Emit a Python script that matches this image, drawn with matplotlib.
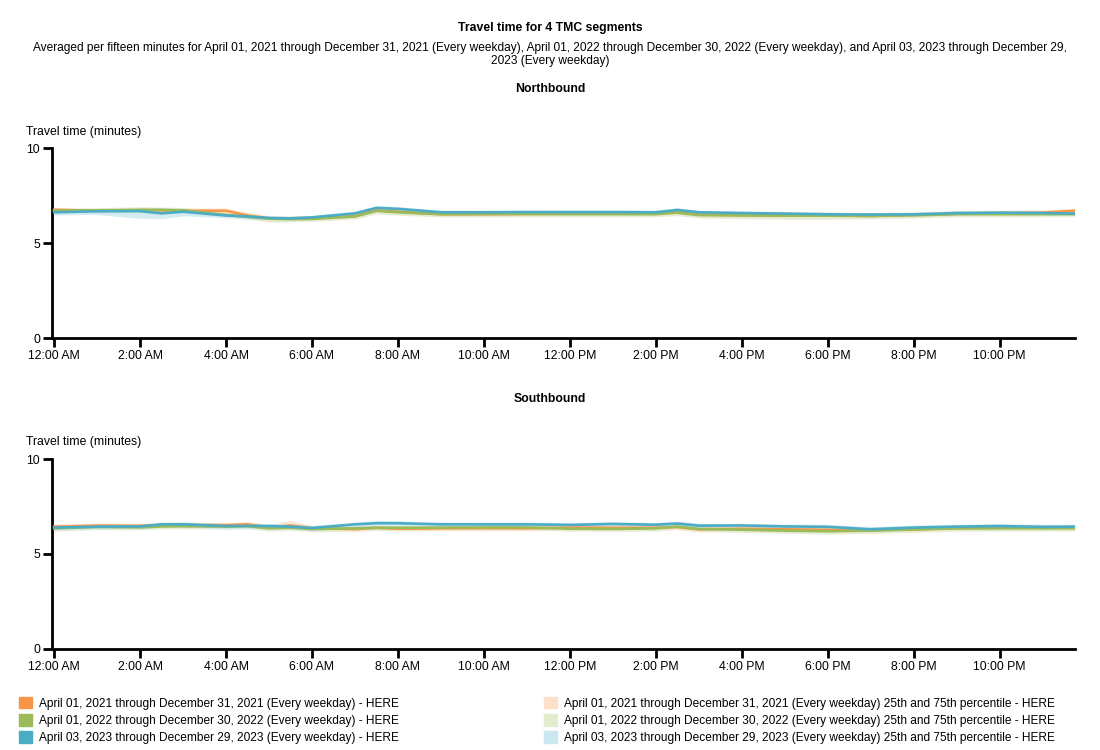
import matplotlib
matplotlib.use("Agg")
import matplotlib.pyplot as plt
from matplotlib.patches import Patch

plt.rcParams['font.family'] = ['Liberation Sans', 'DejaVu Sans']

# hours of the day (0 = 12:00 AM)
hours = [0, 1, 2, 2.5, 3, 4, 4.5, 5, 5.5, 6, 7, 7.5, 8, 9, 10, 11, 12, 13, 14, 14.5,
         15, 16, 17, 18, 19, 20, 21, 22, 23, 23.75]

tick_hours = [0, 2, 4, 6, 8, 10, 12, 14, 16, 18, 20, 22]
tick_labels = ['12:00 AM', '2:00 AM', '4:00 AM', '6:00 AM', '8:00 AM', '10:00 AM',
               '12:00 PM', '2:00 PM', '4:00 PM', '6:00 PM', '8:00 PM', '10:00 PM']

# Northbound averages (minutes)
nb_2021 = [6.75, 6.70, 6.72, 6.72, 6.70, 6.70, 6.45, 6.30, 6.30, 6.32, 6.42, 6.72, 6.65, 6.52, 6.52,
           6.53, 6.55, 6.55, 6.56, 6.62, 6.50, 6.48, 6.47, 6.46, 6.42, 6.48, 6.54, 6.57, 6.60, 6.70]
nb_2022 = [6.70, 6.72, 6.75, 6.75, 6.72, 6.48, 6.38, 6.28, 6.26, 6.27, 6.40, 6.70, 6.62, 6.52, 6.53,
           6.53, 6.52, 6.52, 6.52, 6.60, 6.47, 6.45, 6.44, 6.44, 6.43, 6.46, 6.52, 6.52, 6.52, 6.52]
nb_2023 = [6.62, 6.67, 6.68, 6.56, 6.65, 6.45, 6.40, 6.32, 6.30, 6.35, 6.56, 6.85, 6.80, 6.62, 6.62,
           6.63, 6.63, 6.63, 6.62, 6.74, 6.62, 6.58, 6.55, 6.51, 6.50, 6.51, 6.58, 6.60, 6.58, 6.55]

# Northbound 25th / 75th percentiles
nb_2021_lo = [6.60, 6.56, 6.60, 6.60, 6.58, 6.56, 6.28, 6.10, 6.12, 6.18, 6.28, 6.56, 6.50, 6.38, 6.38,
              6.40, 6.42, 6.42, 6.42, 6.48, 6.36, 6.32, 6.28, 6.28, 6.28, 6.34, 6.40, 6.42, 6.44, 6.54]
nb_2021_hi = [6.87, 6.82, 6.86, 6.86, 6.84, 6.84, 6.62, 6.44, 6.42, 6.44, 6.54, 6.86, 6.78, 6.64, 6.64,
              6.65, 6.66, 6.66, 6.68, 6.76, 6.64, 6.62, 6.62, 6.64, 6.60, 6.64, 6.70, 6.72, 6.74, 6.82]
nb_2022_lo = [6.56, 6.58, 6.58, 6.60, 6.58, 6.34, 6.24, 6.14, 6.13, 6.14, 6.26, 6.53, 6.46, 6.38, 6.38,
              6.38, 6.38, 6.38, 6.38, 6.44, 6.32, 6.28, 6.26, 6.26, 6.28, 6.32, 6.38, 6.38, 6.38, 6.38]
nb_2022_hi = [6.84, 6.86, 6.92, 6.90, 6.87, 6.62, 6.50, 6.40, 6.38, 6.40, 6.54, 6.84, 6.76, 6.65, 6.66,
              6.66, 6.65, 6.65, 6.65, 6.74, 6.60, 6.58, 6.58, 6.58, 6.58, 6.60, 6.66, 6.66, 6.66, 6.66]
nb_2023_lo = [6.48, 6.50, 6.30, 6.28, 6.43, 6.33, 6.28, 6.22, 6.20, 6.24, 6.44, 6.70, 6.66, 6.52, 6.52,
              6.52, 6.52, 6.52, 6.52, 6.62, 6.52, 6.48, 6.44, 6.40, 6.40, 6.42, 6.48, 6.50, 6.48, 6.46]
nb_2023_hi = [6.74, 6.78, 6.78, 6.68, 6.76, 6.56, 6.50, 6.42, 6.40, 6.46, 6.68, 6.97, 6.92, 6.72, 6.72,
              6.73, 6.73, 6.73, 6.72, 6.86, 6.72, 6.68, 6.65, 6.62, 6.60, 6.62, 6.68, 6.70, 6.68, 6.65]

# Southbound averages (minutes)
sb_2021 = [6.44, 6.49, 6.48, 6.52, 6.53, 6.52, 6.56, 6.40, 6.50, 6.36, 6.31, 6.38, 6.33, 6.35, 6.36,
           6.35, 6.39, 6.38, 6.38, 6.42, 6.30, 6.33, 6.30, 6.27, 6.26, 6.30, 6.36, 6.38, 6.40, 6.40]
sb_2022 = [6.35, 6.42, 6.40, 6.45, 6.46, 6.44, 6.46, 6.35, 6.38, 6.31, 6.35, 6.38, 6.38, 6.39, 6.40,
           6.40, 6.33, 6.32, 6.35, 6.44, 6.32, 6.28, 6.23, 6.20, 6.23, 6.29, 6.35, 6.35, 6.35, 6.35]
sb_2023 = [6.39, 6.44, 6.45, 6.56, 6.56, 6.47, 6.48, 6.47, 6.44, 6.37, 6.56, 6.62, 6.62, 6.56, 6.56,
           6.56, 6.53, 6.58, 6.54, 6.60, 6.49, 6.50, 6.45, 6.43, 6.30, 6.39, 6.44, 6.47, 6.43, 6.44]

# Southbound 25th / 75th percentiles
sb_2021_lo = [6.30, 6.36, 6.34, 6.38, 6.40, 6.38, 6.42, 6.26, 6.34, 6.22, 6.18, 6.24, 6.20, 6.22, 6.22,
              6.22, 6.26, 6.24, 6.24, 6.28, 6.16, 6.18, 6.14, 6.10, 6.12, 6.16, 6.22, 6.24, 6.26, 6.26]
sb_2021_hi = [6.56, 6.62, 6.62, 6.66, 6.66, 6.64, 6.70, 6.54, 6.76, 6.50, 6.44, 6.50, 6.46, 6.48, 6.48,
              6.48, 6.52, 6.52, 6.52, 6.56, 6.44, 6.46, 6.44, 6.42, 6.42, 6.46, 6.52, 6.54, 6.56, 6.54]
sb_2022_lo = [6.20, 6.28, 6.26, 6.32, 6.32, 6.30, 6.32, 6.20, 6.24, 6.16, 6.22, 6.24, 6.24, 6.26, 6.26,
              6.26, 6.20, 6.18, 6.20, 6.30, 6.18, 6.14, 6.08, 6.04, 6.08, 6.14, 6.20, 6.20, 6.20, 6.20]
sb_2022_hi = [6.48, 6.54, 6.52, 6.58, 6.60, 6.58, 6.60, 6.48, 6.52, 6.44, 6.48, 6.50, 6.50, 6.52, 6.52,
              6.52, 6.46, 6.46, 6.48, 6.58, 6.46, 6.42, 6.36, 6.34, 6.38, 6.42, 6.48, 6.48, 6.48, 6.48]
sb_2023_lo = [6.26, 6.30, 6.32, 6.42, 6.42, 6.32, 6.34, 6.34, 6.30, 6.24, 6.42, 6.48, 6.48, 6.44, 6.44,
              6.44, 6.40, 6.44, 6.40, 6.46, 6.36, 6.36, 6.32, 6.30, 6.18, 6.26, 6.30, 6.32, 6.30, 6.32]
sb_2023_hi = [6.50, 6.56, 6.58, 6.68, 6.70, 6.60, 6.60, 6.60, 6.58, 6.50, 6.68, 6.76, 6.74, 6.68, 6.68,
              6.68, 6.66, 6.70, 6.66, 6.74, 6.62, 6.62, 6.58, 6.56, 6.44, 6.52, 6.56, 6.60, 6.56, 6.56]

colors = ['#F79646', '#9BBB59', '#4BACC6']
band_colors = ['#FCE0CA', '#E2ECCF', '#CBE8F1']
periods = ['April 01, 2021 through December 31, 2021 (Every weekday)',
           'April 01, 2022 through December 30, 2022 (Every weekday)',
           'April 03, 2023 through December 29, 2023 (Every weekday)']

fig = plt.figure(figsize=(11, 7.5), dpi=100)


def draw_panel(ax, means, los, his):
    for lo, hi, bc in zip(los, his, band_colors):
        ax.fill_between(hours, lo, hi, color=bc, alpha=0.8, linewidth=0, zorder=1)
    for m, c in zip(means, colors):
        ax.plot(hours, m, color=c, linewidth=1.9, zorder=3)
    ax.set_xlim(-0.05, 23.75)
    ax.set_ylim(0, 10)
    ax.set_yticks([0, 5, 10])
    ax.set_xticks(tick_hours)
    ax.set_xticklabels(tick_labels)
    for s in ['top', 'right']:
        ax.spines[s].set_visible(False)
    for s in ['left', 'bottom']:
        ax.spines[s].set_linewidth(2.0)
    ax.tick_params(axis='both', length=6.5, width=2.0, pad=2, labelsize=8.8, colors='black')


ax1 = fig.add_axes([0.0473, 0.5493, 0.9297, 0.2533])
draw_panel(ax1, [nb_2021, nb_2022, nb_2023],
           [nb_2021_lo, nb_2022_lo, nb_2023_lo], [nb_2021_hi, nb_2022_hi, nb_2023_hi])
ax2 = fig.add_axes([0.0473, 0.1347, 0.9297, 0.2533])
draw_panel(ax2, [sb_2021, sb_2022, sb_2023],
           [sb_2021_lo, sb_2022_lo, sb_2023_lo], [sb_2021_hi, sb_2022_hi, sb_2023_hi])

# titles
fig.text(0.5, 1 - 27.5 / 750, 'Travel time for 4 TMC segments', ha='center', va='center',
         fontsize=8.8, fontweight='bold')
fig.text(0.5, 1 - 54.5 / 750,
         'Averaged per fifteen minutes for April 01, 2021 through December 31, 2021 (Every weekday), '
         'April 01, 2022 through December 30, 2022 (Every weekday), and April 03, 2023 through December 29,\n'
         '2023 (Every weekday)', ha='center', va='center', fontsize=8.6, linespacing=1.1)
fig.text(0.5, 1 - 88.5 / 750, 'Northbound', ha='center', va='center', fontsize=8.8, fontweight='bold')
fig.text(0.5, 1 - 399.5 / 750, 'Southbound', ha='center', va='center', fontsize=8.8, fontweight='bold')
fig.text(26 / 1100, 1 - 131.5 / 750, 'Travel time (minutes)', ha='left', va='center', fontsize=8.8)
fig.text(26 / 1100, 1 - 442.5 / 750, 'Travel time (minutes)', ha='left', va='center', fontsize=8.8)

# legend, two columns placed separately
leg_kw = dict(loc='upper left', frameon=False, fontsize=8.6, handlelength=1.1, handleheight=1.1,
              handletextpad=0.55, labelspacing=0.36, borderaxespad=0, borderpad=0)
leg1 = fig.legend([Patch(color=c) for c in colors], [p + ' - HERE' for p in periods],
                  bbox_to_anchor=(19 / 1100, 1 - 697 / 750), **leg_kw)
leg2 = fig.legend([Patch(color=bc) for bc in band_colors],
                  [p + ' 25th and 75th percentile - HERE' for p in periods],
                  bbox_to_anchor=(544 / 1100, 1 - 697 / 750), **leg_kw)

fig.savefig('out.png', dpi=100)
